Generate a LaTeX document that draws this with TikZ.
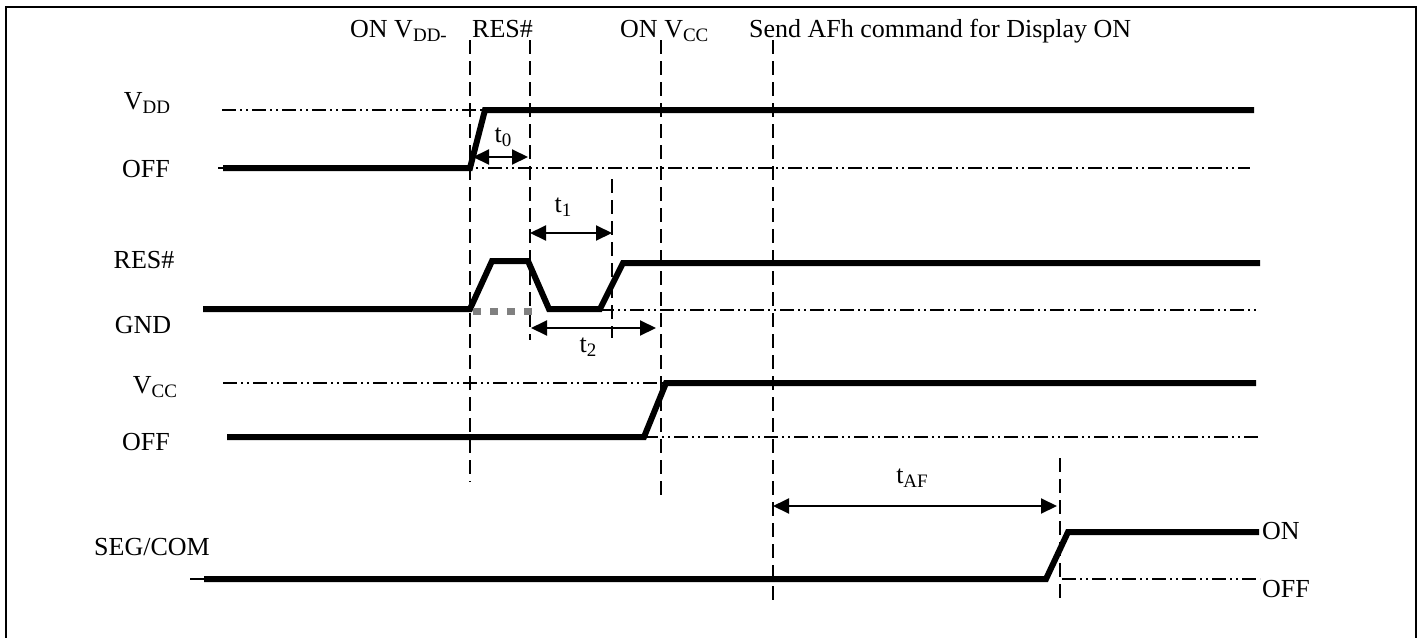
\documentclass[tikz,border=0pt]{standalone}
\usepackage{fontspec}
\setmainfont{Liberation Serif}
\usetikzlibrary{arrows.meta}
\newcommand{\lsub}[1]{\raisebox{-4pt}{\fontsize{19}{19}\selectfont #1}}
\tikzset{
  sig/.style={line width=6pt},
  lvl/.style={line width=1.5pt,dash pattern=on 14pt off 4pt on 2pt off 4pt on 2pt off 4pt},
  vguide/.style={line width=1.6pt,dash pattern=on 14pt off 7pt},
  tspan/.style={line width=2pt,{Triangle[length=16pt,width=15pt]}-{Triangle[length=16pt,width=15pt]}},
  lbl/.style={inner sep=0pt,anchor=base}
}
\begin{document}
\begin{tikzpicture}[x=1pt,y=-1pt,font=\fontsize{26}{31}\selectfont]
\useasboundingbox (0,0) rectangle (1423,637);
\draw[line width=2.5pt] (6,640) -- (6,7) -- (1416,7) -- (1416,640);

% events on top
\node[lbl,anchor=base west] (onvdd) at (350,37) {ON V\lsub{DD-}};
\node[lbl,anchor=base west] (res) at (472,37) {RES\#};
\node[lbl,anchor=base west] (onvcc) at (620,37) {ON V\lsub{CC}};
\node[lbl,anchor=base west] (send) at (749,37) {Send AFh command for Display ON};

% signal names
\node[lbl] (vddhi) at (147,109) {V\lsub{DD}};
\node[lbl] (vddlo) at (146,177) {OFF};
\node[lbl] (reshi) at (144,268) {RES\#};
\node[lbl] (reslo) at (143,333) {GND};
\node[lbl] (vcchi) at (155,393) {V\lsub{CC}};
\node[lbl] (vcclo) at (146,450) {OFF};
\node[lbl] (seg) at (152,555) {SEG/COM};
\node[lbl,anchor=base west] (segon) at (1262,539) {ON};
\node[lbl,anchor=base west] (segoff) at (1262,597) {OFF};

% time marks
\coordinate (tA) at (470,40);  \coordinate (tA') at (470,482);
\coordinate (tB) at (530,40);  \coordinate (tB') at (530,340);
\coordinate (tC) at (612,179); \coordinate (tC') at (612,338);
\coordinate (tD) at (661,40);  \coordinate (tD') at (661,497);
\coordinate (tE) at (773,40);  \coordinate (tE') at (773,602);
\coordinate (tF) at (1060,458); \coordinate (tF') at (1060,603);
\foreach \a in {tA,tB,tC,tD,tE,tF}
  \draw[vguide] (\a) -- (\a');

% levels
\draw[lvl] (222,110) -- (485,110);
\draw[lvl] (218,168) -- (1250,168);
\draw[lvl] (600,310) -- (1256,310);
\draw[lvl] (223,383) -- (1256,383);
\draw[lvl] (644,437) -- (1261,437);
\draw[lvl] (190,579) -- (204,579);
\draw[lvl] (1062,579) -- (1260,579);

% signals
\draw[sig] (223,168) -- (470,168) -- (485,110) -- (1254,110);
\draw[sig] (203,309) -- (470,309) -- (492,261) -- (528,261) -- (549,309)
  -- (600,309) -- (623,263) -- (1260,263);
\draw[gray,line width=7pt,dash pattern=on 8pt off 9pt] (473,311) -- (534,311);
\draw[sig] (227,437) -- (644,437) -- (666,383) -- (1256,383);
\draw[sig] (204,579) -- (1046,579) -- (1068,532) -- (1259,532);

% timings
\coordinate (a0) at (473,157); \coordinate (b0) at (528,157);
\coordinate (a1) at (530,233); \coordinate (b1) at (612,233);
\coordinate (a2) at (531,328); \coordinate (b2) at (656,328);
\coordinate (a3) at (773,506); \coordinate (b3) at (1057,506);
\draw[tspan] (a0) -- (b0);
\draw[tspan] (a1) -- (b1);
\draw[tspan] (a2) -- (b2);
\draw[tspan] (a3) -- (b3);
\node (t0) at (503,137) {t\lsub{0}};
\node (t1) at (563,207) {t\lsub{1}};
\node (t2) at (588,347) {t\lsub{2}};
\node (taf) at (912,478) {t\lsub{AF}};
\end{tikzpicture}
\end{document}
